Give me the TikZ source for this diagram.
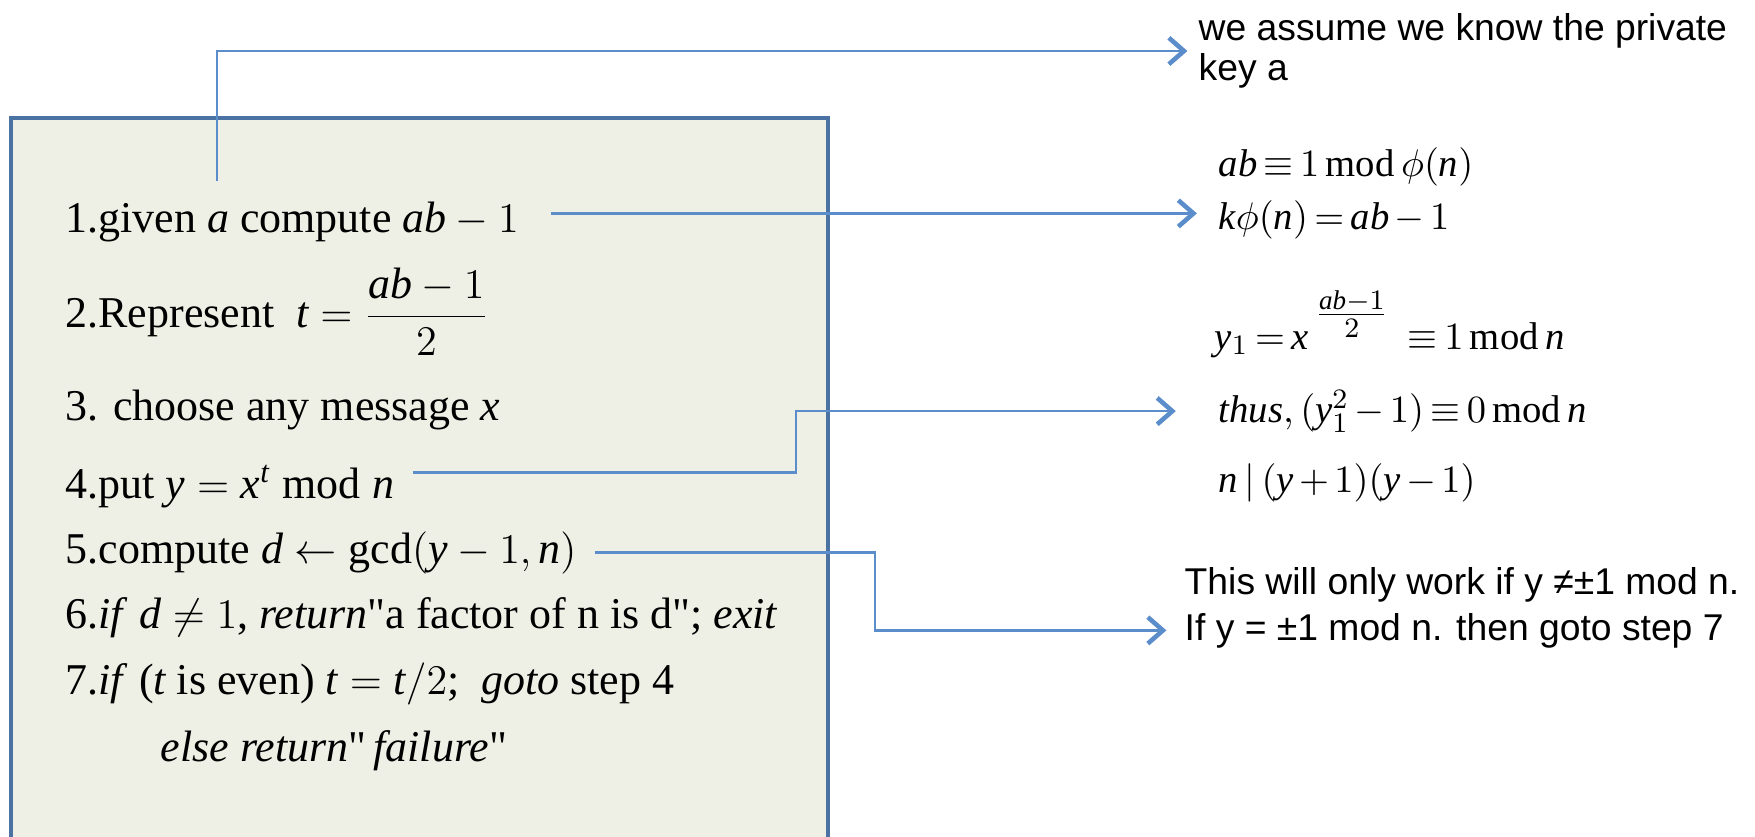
\documentclass[tikz,border=0pt]{standalone}
\usepackage{fontspec}
\usepackage{amsmath}
\setmainfont{Liberation Serif}
\setsansfont{Liberation Sans}
\usetikzlibrary{arrows.meta}
\definecolor{boxfill}{HTML}{EEF0E5}
\definecolor{boxedge}{HTML}{4A72A2}
\definecolor{link}{HTML}{5B8DCB}
\newcommand{\vr}[1]{\mathit{#1}}
\newcommand{\md}{\,\mathrm{mod}\,}
\newcommand{\tightmath}{\thickmuskip=3mu\relax\medmuskip=2.5mu\relax}

\begin{document}
\begin{tikzpicture}[x=0.01cm,y=-0.01cm,
  steptxt/.style={anchor=base west,inner sep=0pt,font=\fontsize{12.5}{15}\selectfont},
  rhs/.style={anchor=base west,inner sep=0pt,font=\fontsize{11}{13}\selectfont\tightmath},
  note/.style={inner sep=0pt,align=left,font=\sffamily\fontsize{10.6}{11.2}\selectfont},
  conn/.style={draw=link,line width=0.7pt,-{Straight Barb[length=4.3pt,width=7.5pt,line width=1.3pt]}}]
  \useasboundingbox (0,0) rectangle (1755,836);
  % algorithm box
  \filldraw[fill=boxfill,draw=boxedge,line width=1.1pt] (11,118) rectangle (828,860);
  \node[steptxt] (s1) at (65,232) {1.given $\vr{a}$ compute $\vr{ab}-1$};
  \node[steptxt] (s2) at (65,327) {2.Represent\enspace $\vr{t}=\dfrac{\vr{ab}-1}{2}$};
  \node[steptxt] (s3) at (65,420) {3. choose any message $\vr{x}$};
  \node[steptxt] (s4) at (65,498) {4.put $\vr{y}=\vr{x}^{\vr{t}}\bmod\vr{n}$};
  \node[steptxt] (s5) at (65,563) {5.compute $\vr{d}\leftarrow\gcd(\vr{y}-1,\vr{n})$};
  \node[steptxt] (s6) at (65,628) {6.\textit{if} $\vr{d}\neq 1$, \textit{return}\textquotedbl a factor of n is d\textquotedbl; \textit{exit}};
  \node[steptxt] (s7) at (65,694) {7.\textit{if} ($\vr{t}$ is even) $\vr{t}=\vr{t}/2$;\enspace \textit{goto} step 4};
  \node[steptxt] (s8) at (160,761) {\textit{else return}\textquotedbl\,\textit{failure}\textquotedbl};
  % right hand notes
  \node[note,anchor=west] (assume) at (1198,51) {we assume we know the private\\key a};
  \node[rhs] (abmod) at (1218,176) {$\vr{ab}\equiv 1\md\phi(\vr{n})$};
  \node[rhs] (kphi) at (1218,229) {$\vr{k}\phi(\vr{n})=\vr{ab}-1$};
  \node[rhs] (yone) at (1214,349) {$\vr{y}_1=\vr{x}\;\raisebox{7pt}{$\genfrac{}{}{0.4pt}{1}{\vr{ab}-1}{2}$}\;\;\equiv 1\md\vr{n}$};
  \node[rhs] (thus) at (1218,422) {$\textit{thus},(\vr{y}_1^2-1)\equiv 0\md\vr{n}$};
  \node[rhs] (ndiv) at (1218,492) {$\vr{n}\,|\,(\vr{y}+1)(\vr{y}-1)$};
  \node[note,anchor=base west] (work) at (1184,594) {This will only work if y ≠±1 mod n.};
  \node[note,anchor=base west] (ify) at (1184,640) {If y = ±1 mod n. then goto step 7};
  % connectors
  \coordinate (a0) at (217,181);
  \draw[conn,shorten >=3pt] (a0) |- (assume.west);
  \coordinate (a1) at ([xshift=9pt,yshift=2.3pt]s1.east);
  \draw[conn,shorten >=6pt] (a1) -- (a1 -| kphi.west);
  \coordinate (a3) at ([xshift=5pt,yshift=4pt]s4.east);
  \coordinate (k3) at (796,0);
  \draw[conn,shorten >=12pt] (a3) -| (k3 |- thus.west) -- (thus.west);
  \coordinate (a4) at ([xshift=5pt]s5.east);
  \coordinate (k4) at (875,0);
  \draw[conn,shorten >=5pt] (a4) -| (k4 |- ify.west) -- (ify.west);
\end{tikzpicture}
\end{document}
